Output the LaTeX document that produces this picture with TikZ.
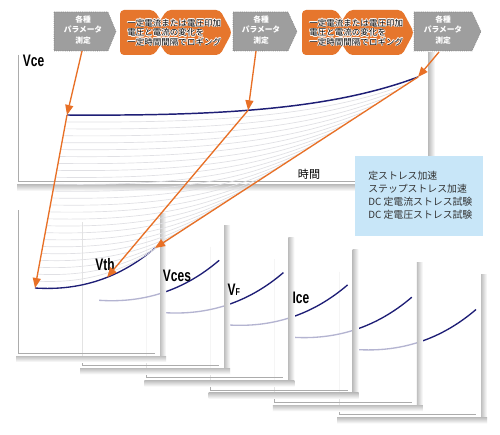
\documentclass[tikz,border=0pt]{standalone}
\usepackage{fontspec}
\setmainfont{Liberation Sans}
\newfontfamily\jp{Noto Sans CJK JP}
\newfontfamily\lbl[FakeStretch=0.72]{Liberation Sans}
\usetikzlibrary{arrows.meta,calc}
\definecolor{navy}{RGB}{30,30,118}
\definecolor{arrowor}{RGB}{232,112,38}
\definecolor{chevor}{RGB}{230,118,45}
\definecolor{chevgray}{RGB}{158,158,158}
\definecolor{boxblue}{RGB}{200,230,248}
\definecolor{axisgray}{RGB}{172,172,172}
\definecolor{faint}{RGB}{224,224,228}
\newcommand\ohalo[1]{%
 \makebox[0pt][l]{\color{white}\kern0.5pt#1}%
 \makebox[0pt][l]{\color{white}\kern-0.5pt#1}%
 \makebox[0pt][l]{\color{white}\raisebox{0.5pt}{#1}}%
 \makebox[0pt][l]{\color{white}\raisebox{-0.5pt}{#1}}%
 \makebox[0pt][l]{\color{white}\kern0.35pt\raisebox{0.35pt}{#1}}%
 \makebox[0pt][l]{\color{white}\kern-0.35pt\raisebox{0.35pt}{#1}}%
 \makebox[0pt][l]{\color{white}\kern0.35pt\raisebox{-0.35pt}{#1}}%
 \makebox[0pt][l]{\color{white}\kern-0.35pt\raisebox{-0.35pt}{#1}}%
 #1}
\begin{document}
\begin{tikzpicture}[x=0.75pt,y=-0.75pt,
  grayshape/.style={fill=chevgray, draw=black!55, densely dotted, line width=0.4pt},
  orshape/.style={fill=chevor, rounded corners=3pt},
  graytext/.style={text=white, font=\jp\bfseries\fontsize{5.8}{7.9}\selectfont, align=center, inner sep=0},
  ortext/.style={font=\jp\fontsize{6.4}{7.2}\selectfont, align=left, anchor=west, inner sep=0},
  curve/.style={draw=navy, line width=1.1pt},
  arr/.style={draw=arrowor, line width=1pt, -{Triangle[length=7.5pt,width=6pt]}},
  axis/.style={draw=axisgray, line width=0.5pt},
  faintline/.style={draw=faint, line width=0.5pt},
  lab/.style={font=\lbl\bfseries\fontsize{12.5}{14}\selectfont, anchor=base west, inner sep=0}]
\fill[white] (0,0) rectangle (500,435);
\useasboundingbox (0,0) rectangle (500,435);

% main panel
\shade[left color=gray!55, right color=white] (428,53) rectangle (435,190);
\shade[top color=gray!55, bottom color=white] (17,184) rectangle (435,191);
\draw[axis] (18,55) -- (18,181) -- (428,181);

% lower panels (back to front)
\foreach \i in {5,4,...,0}{
  \pgfmathsetmacro\ox{64.2*\i}
  \pgfmathsetmacro\oy{12.3*\i}
  \begin{scope}[shift={(\ox,\oy)}]
    \fill[white, opacity=0.67] (13,205) rectangle (160,356);
    \shade[left color=gray!50, right color=white] (160,213) rectangle (166,362);
    \shade[top color=gray!50, bottom color=white] (16,356) rectangle (166,362);
    \draw[axis] (18,210) -- (18,353) -- (155,353);
    \draw[curve, line width=1pt] (35,288) .. controls (80,291) and (120,278) .. (155,248);
  \end{scope}
}

% key points
\coordinate (m0) at (67,115);
\coordinate (m1) at (217,116);
\coordinate (m2) at (330,110);
\coordinate (m3) at (418,77);
\coordinate (v0) at (35,288);
\coordinate (v1) at (80,291);
\coordinate (v2) at (120,278);
\coordinate (v3) at (155,248);

% faint transition curves
\foreach \k in {1,...,24}{
  \pgfmathsetmacro\f{\k/25}
  \draw[faintline] ($(m0)!\f!(v0)$) .. controls ($(m1)!\f!(v1)$) and ($(m2)!\f!(v2)$) .. ($(m3)!\f!(v3)$);
}

% main curve
\draw[curve] (m0) .. controls (m1) and (m2) .. coordinate[pos=0.45] (mq) (m3);
\path (v0) .. controls (v1) and (v2) .. coordinate[pos=0.57] (vq) (v3);

% labels
\node[lab] (lvce) at (22.7,66.7) {Vce};
\node[lab] (lvth) at (95,270) {Vth};
\node[lab] (lvces) at (162.7,281.7) {Vces};
\node[lab] (lvf) at (227.3,295) {V{\fontsize{7.5}{8}\selectfont F}};
\node[lab] (lice) at (292.3,303.3) {Ice};
\node[font=\jp\fontsize{8.3}{9}\selectfont, inner sep=0] (tm) at (309,174) {時間};

% blue box
\node[fill=boxblue, minimum width=96pt, minimum height=60pt, inner sep=0, anchor=north west] (bb) at (355,156) {};
\node[font=\jp\fontsize{7.4}{9.75}\selectfont, text=black!80, align=left, anchor=west, inner sep=0] (bt) at (368,195)
  {定ストレス加速\\ステップストレス加速\\DC 定電流ストレス試験\\DC 定電圧ストレス試験};

% gray chevrons
\path[grayshape] (54,12) -- (108,12) -- (116,31.5) -- (108,51) -- (54,51) -- cycle;
\node[graytext] (g1) at (83,30) {各種\\パラメータ\\測定};
\path[grayshape] (233,12) -- (288,12) -- (297,31.5) -- (288,51) -- (233,51) -- cycle;
\node[graytext] (g2) at (261,30) {各種\\パラメータ\\測定};
\path[grayshape] (414,12) -- (472,12) -- (481,31.5) -- (472,51) -- (414,51) -- cycle;
\node[graytext] (g3) at (443,30) {各種\\パラメータ\\測定};

% orange chevrons
\fill[orshape] (120,10) -- (154,10) -- (168.6,32.5) -- (154,55) -- (120,55) -- cycle;
\fill[orshape] (167,10) -- (220,10) -- (232,32.5) -- (220,55) -- (167,55) -- (152.4,32.5) -- cycle;
\node[ortext] (o1) at (127,32.5) {\ohalo{一定電流または電圧印加}\\\ohalo{電圧と電流の変化を}\\\ohalo{一定時間間隔でロギング}};
\fill[orshape] (302,10) -- (336,10) -- (350.6,32.5) -- (336,55) -- (302,55) -- cycle;
\fill[orshape] (349,10) -- (402,10) -- (414,32.5) -- (402,55) -- (349,55) -- (334.4,32.5) -- cycle;
\node[ortext] (o2) at (309,32.5) {\ohalo{一定電流または電圧印加}\\\ohalo{電圧と電流の変化を}\\\ohalo{一定時間間隔でロギング}};

% arrows
\coordinate (g1s) at (82,51);
\coordinate (g2s) at (256,51);
\coordinate (g3s) at (439,52);
\draw[arr] (g1s) -- (m0);
\draw[arr] (m0) -- (v0);
\draw[arr] (g2s) -- (mq);
\draw[arr] (mq) -- (vq);
\draw[arr] (g3s) -- (m3);
\draw[arr] (m3) -- (v3);
\end{tikzpicture}
\end{document}
